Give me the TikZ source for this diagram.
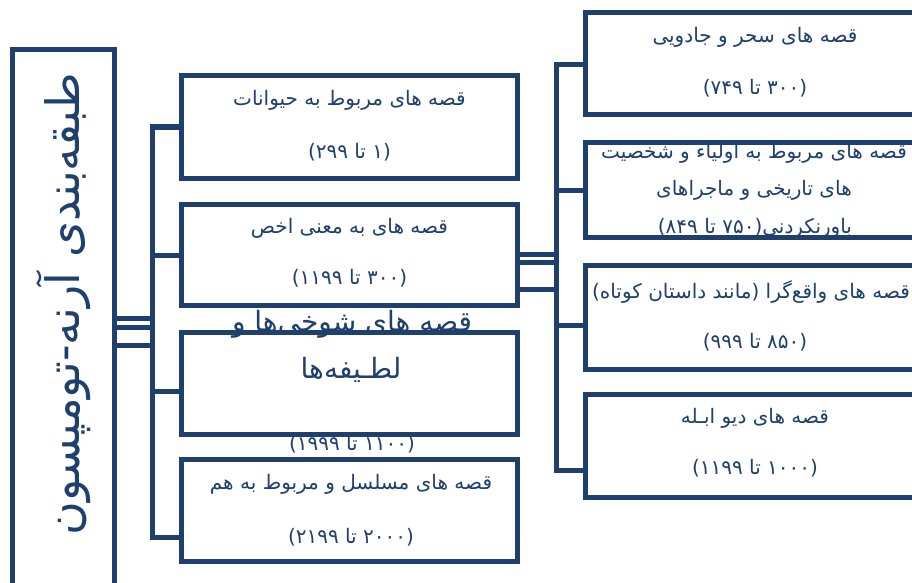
\documentclass[tikz,border=0pt]{standalone}
\usepackage{fontspec}
\newfontfamily\fa[Script=Arabic]{DejaVu Sans}
\TeXXeTstate=1
\definecolor{navy}{RGB}{31,63,110}
\tikzset{
  box/.style={draw=navy, line width=5pt, rectangle, inner sep=0pt},
  conn/.style={draw=navy, line width=5pt},
  txt/.style={text=navy, inner sep=0pt, font=\fa\fontsize{20}{22}\selectfont},
  bigtxt/.style={text=navy, inner sep=0pt, font=\fa\fontsize{28}{30}\selectfont},
  titletxt/.style={text=navy, inner sep=0pt, font=\fa\fontsize{46}{50}\selectfont, rotate=90}
}
\begin{document}
\begin{tikzpicture}[x=1pt,y=-1pt]
\useasboundingbox (0,0) rectangle (912,583);
\clip (0,0) rectangle (912,583);
\fill[white] (0,0) rectangle (912,583);

% ---- texts (drawn first: borders lie over them) ----
\node[titletxt] (tt) at (64,304) {\beginR طبقه‌بندی آرنه-تومپسون\endR};

\node[txt] (t1a) at (349.5,100) {\beginR قصه های مربوط به حیوانات\endR};
\node[txt] (t1b) at (349.5,152) {\beginR(۱ تا ۲۹۹)\endR};
\node[txt] (t2a) at (349.5,228) {\beginR قصه های به معنی اخص\endR};
\node[txt] (t2b) at (349.5,278) {\beginR(۳۰۰ تا ۱۱۹۹)\endR};
\node[bigtxt] (t3a) at (352,324) {\beginR قصه های شوخی‌ها و\endR};
\node[bigtxt] (t3b) at (351,370) {\beginR لطـیفه‌ها\endR};
\node[txt] (t3c) at (352,444) {\beginR(۱۱۰۰ تا ۱۹۹۹)\endR};
\node[txt] (t4a) at (351,484) {\beginR قصه های مسلسل و مربوط به هم\endR};
\node[txt] (t4b) at (351,537) {\beginR(۲۰۰۰ تا ۲۱۹۹)\endR};

\node[txt] (ra1) at (755,37) {\beginR قصه های سحر و جادویی\endR};
\node[txt] (ra2) at (755,88) {\beginR(۳۰۰ تا ۷۴۹)\endR};
\node[txt] (rb1) at (754,153) {\beginR قصه های مربوط به اولیاء و شخصیت\endR};
\node[txt] (rb2) at (754,190) {\beginR های تاریخی و ماجراهای\endR};
\node[txt] (rb3) at (755,228) {\beginR باورنکردنی(۷۵۰ تا ۸۴۹)\endR};
\node[txt] (rc1) at (751,292) {\beginR قصه های واقع‌گرا (مانند داستان کوتاه)\endR};
\node[txt] (rc2) at (755,342) {\beginR(۸۵۰ تا ۹۹۹)\endR};
\node[txt] (rd1) at (755,418) {\beginR قصه های دیو ابـله\endR};
\node[txt] (rd2) at (755,468) {\beginR(۱۰۰۰ تا ۱۱۹۹)\endR};

% ---- boxes ----
\node[box, minimum width=102pt, minimum height=551pt] (L) at (63.5,325) {};

\node[box, minimum width=336pt, minimum height=102pt] (m1) at (349.5,127) {};
\node[box, minimum width=336pt, minimum height=101pt] (m2) at (349.5,255) {};
\node[box, minimum width=336pt, minimum height=102pt] (m3) at (349.5,383.5) {};
\node[box, minimum width=336pt, minimum height=102pt] (m4) at (349.5,510.5) {};

\node[box, minimum width=340pt, minimum height=102pt] (r1) at (755.5,63.5) {};
\node[box, minimum width=340pt, minimum height=95pt] (r2) at (755.5,190) {};
\node[box, minimum width=340pt, minimum height=104pt] (r3) at (755.5,317.5) {};
\node[box, minimum width=340pt, minimum height=103pt] (r4) at (755.5,446) {};

% ---- left bus ----
\coordinate (lbT) at (152.5,127);
\coordinate (lbB) at (152.5,537.5);
\draw[conn] (m1.west) -- (lbT) -- (lbB) -- (m4.west |- lbB);
\draw[conn] (m2.west) -- (m2.west -| lbT);
\draw[conn] (m3.west |- 0,391.5) -- (lbT |- 0,391.5);
\draw[conn] (L.east |- 0,318) -- (lbT |- 0,318);
\draw[conn] (L.east |- 0,327) -- (lbT |- 0,327);
\draw[conn] (L.east |- 0,345) -- (lbT |- 0,345);

% ---- right bus ----
\coordinate (rbT) at (556.5,64.5);
\coordinate (rbB) at (556.5,470.5);
\draw[conn] (r1.west |- rbT) -- (rbT) -- (rbB) -- (r4.west |- rbB);
\draw[conn] (r2.west) -- (r2.west -| rbT);
\draw[conn] (r3.west |- 0,325.5) -- (rbT |- 0,325.5);
\draw[conn] (m2.east |- 0,254.5) -- (rbT |- 0,254.5);
\draw[conn] (m2.east |- 0,262.5) -- (rbT |- 0,262.5);
\draw[conn] (m2.east |- 0,289.5) -- (rbT |- 0,289.5);
\end{tikzpicture}
\end{document}
